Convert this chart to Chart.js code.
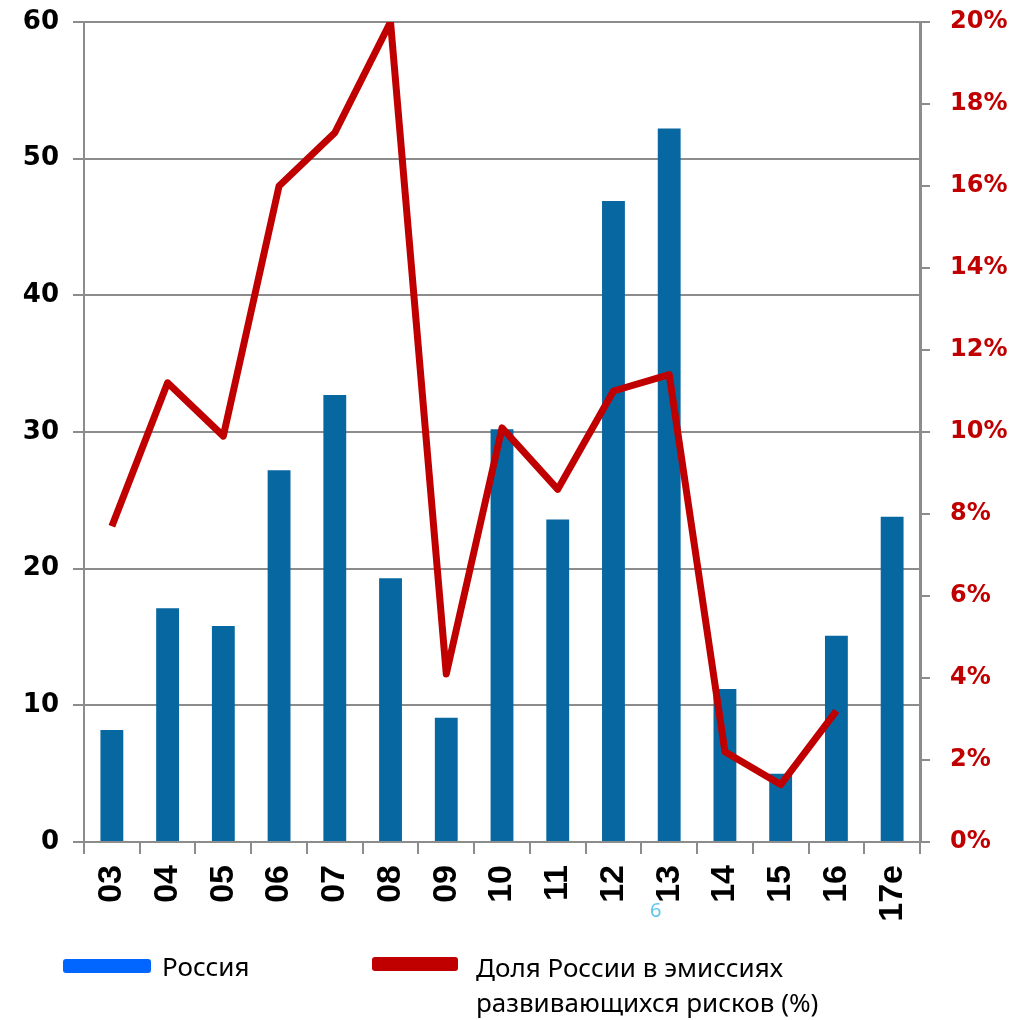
<!DOCTYPE html>
<html>
<head>
<meta charset="utf-8">
<script src="https://cdn.jsdelivr.net/npm/chart.js@4"></script>
<style>
  body { margin: 0; background: #fff; }
  #wrap { position: relative; width: 1028px; height: 1020px; }
  #chart { position: absolute; left: 0; top: 0; }
  .leg { position: absolute; font-family: "Noto Sans", sans-serif; font-size: 26px; color: #000; line-height: 35px; }
  .sw { position: absolute; height: 14px; border-radius: 3px; }
  #stray { position: absolute; left: 650px; top: 896px; font-family: "Noto Sans", sans-serif; font-size: 20px; color: #5ec6ef; }
</style>
</head>
<body>
<div id="wrap">
  <canvas id="chart" width="1028" height="950"></canvas>
  <div id="stray">6</div>
  <div class="sw" style="left:63px; top:959px; width:88px; background:#0066ff;"></div>
  <div class="leg" style="left:162px; top:949px;">Россия</div>
  <div class="sw" style="left:372px; top:957px; width:86px; background:#c00000;"></div>
  <div class="leg" style="left:476px; top:950px;">Доля России в эмиссиях<br>развивающихся рисков (%)</div>
</div>
<script>
// years (2003 .. 2017 estimate)
const years = ['03', '04', '05', '06', '07', '08', '09', '10', '11', '12', '13', '14', '15', '16', '17e'];
// Russia issuance, bars (left axis)
const russia = [8.2, 17.1, 15.8, 27.2, 32.7, 19.3, 9.1, 30.2, 23.6, 46.9, 52.2, 11.2, 5.0, 15.1, 23.8];
// Russia share of EM issuance, % (right axis)
const share = [7.7, 11.2, 9.9, 16.0, 17.3, 20.0, 4.1, 10.1, 8.6, 11.0, 11.4, 2.2, 1.4, 3.2, null];

const gray = '#8c8c8c';
const red = '#c00000';

// fixed axis sizes so the plot area sits where the original has it
function fixY(width) {
  return s => { s.width = width; s.paddingTop = 0; s.paddingBottom = 0; };
}

new Chart(document.getElementById('chart'), {
  data: {
    labels: years,
    datasets: [
      {
        type: 'line',
        label: 'Доля России в эмиссиях развивающихся рисков (%)',
        data: share,
        yAxisID: 'y2',
        borderColor: red,
        borderWidth: 7,
        pointRadius: 0,
        tension: 0,
        borderJoinStyle: 'round',
        order: 0
      },
      {
        type: 'bar',
        label: 'Россия',
        data: russia,
        yAxisID: 'y',
        backgroundColor: '#0767a0',
        categoryPercentage: 1,
        barPercentage: 0.41,
        order: 1
      }
    ]
  },
  options: {
    responsive: false,
    animation: false,
    layout: { padding: { top: 22, left: 0, right: 0, bottom: 0 } },
    plugins: { legend: { display: false }, tooltip: { enabled: false } },
    scales: {
      x: {
        offset: true,
        grid: { drawOnChartArea: false, color: gray, lineWidth: 2, tickLength: 12, offset: true },
        border: { color: gray, width: 2 },
        ticks: {
          minRotation: 90, maxRotation: 90, padding: 11, color: '#000',
          font: { family: 'Liberation Sans', size: 34, weight: 'bold' }
        },
        afterFit: s => { s.height = 108; s.paddingLeft = 0; s.paddingRight = 0; }
      },
      y: {
        position: 'left',
        min: 0, max: 60,
        ticks: {
          stepSize: 10, padding: 14, color: '#000',
          font: { family: 'DejaVu Sans', size: 26, weight: 'bold' }
        },
        grid: { color: gray, lineWidth: 2, tickLength: 11 },
        border: { color: gray, width: 2 },
        afterFit: fixY(84)
      },
      y2: {
        position: 'right',
        min: 0, max: 20,
        ticks: {
          stepSize: 2, padding: 20, color: red,
          font: { family: 'DejaVu Sans', size: 24, weight: 'bold' },
          callback: v => v + '%'
        },
        grid: { drawOnChartArea: false, color: gray, lineWidth: 2, tickLength: 10 },
        border: { color: gray, width: 3 },
        afterFit: fixY(108)
      }
    }
  }
});
</script>
</body>
</html>
